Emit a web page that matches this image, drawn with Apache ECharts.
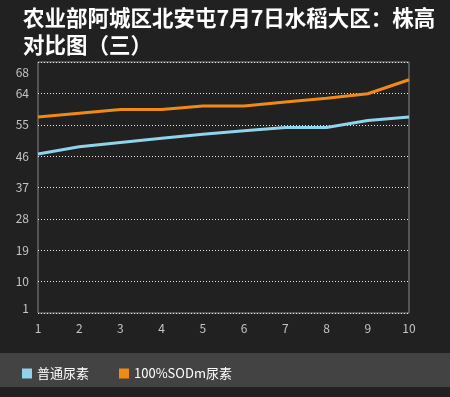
<!DOCTYPE html>
<html>
<head>
<meta charset="utf-8">
<script src="https://cdn.jsdelivr.net/npm/echarts@6/dist/echarts.min.js"></script>
<style>
  html, body { margin: 0; padding: 0; background: #212121; }
  #box { width: 450px; height: 397px; }
</style>
</head>
<body>
<div id="box"></div>
<script>
// x 轴类目
const aDays = ['1', '2', '3', '4', '5', '6', '7', '8', '9', '10'];
// 株高
const aNormal = [46.6, 48.7, 49.9, 51.1, 52.3, 53.3, 54.2, 54.2, 56.2, 57.2];
const aSOD = [57.2, 58.3, 59.4, 59.4, 60.4, 60.4, 61.5, 62.6, 63.9, 67.9];
const aNames = ['普通尿素', '100%SODm尿素'];
const aColors = ['#8fd4ea', '#f08a16'];

const oBox = document.getElementById('box');
const myChart = echarts.init(oBox, null, { renderer: 'canvas' });

const oCommonLine = {
    type: 'line',
    symbol: 'none',
    smooth: false,
    lineStyle: { width: 3 },
};

const option = {
    backgroundColor: '#212121',
    animation: false,
    textStyle: { fontFamily: '"Noto Sans CJK SC", "DejaVu Sans", sans-serif' },
    title: {
        text: '农业部阿城区北安屯7月7日水稻大区：株高\n对比图（三）',
        left: 18,
        top: -1,
        textStyle: {
            color: '#ffffff',
            fontSize: 21.5,
            fontWeight: 'bold',
            lineHeight: 27,
        },
    },
    graphic: [{
        type: 'rect',
        z: -1,
        shape: { x: 0, y: 353, width: 450, height: 34 },
        style: { fill: '#434343' },
    }],
    legend: {
        left: 17,
        top: 362,
        icon: 'rect',
        itemWidth: 10,
        itemHeight: 10,
        itemGap: 30,
        textStyle: { color: '#ffffff', fontSize: 13 },
        data: aNames,
    },
    grid: {
        left: 38,
        top: 62,
        width: 371,
        height: 251,
        show: true,
        borderColor: '#8a8a8a',
        borderWidth: 1,
        containLabel: false,
    },
    xAxis: {
        type: 'category',
        boundaryGap: false,
        data: aDays,
        axisLine: { show: false },
        axisTick: { show: false },
        axisLabel: { color: '#c4c4c4', fontSize: 12, margin: 9 },
        splitLine: { show: false },
    },
    yAxis: {
        type: 'value',
        min: 1,
        max: 73,
        interval: 9,
        axisLine: { show: false },
        axisTick: { show: false },
        axisLabel: {
            color: '#c4c4c4',
            fontSize: 12,
            margin: 9,
            formatter: v => (v === 73 ? '{t|68}' : v === 1 ? '{b|1}' : String(v)),
            rich: {
                t: { color: '#c4c4c4', fontSize: 12, padding: [20, 0, 0, 0] },
                b: { color: '#c4c4c4', fontSize: 12, padding: [0, 0, 10, 0] },
            },
        },
        splitLine: { lineStyle: { color: '#e8e8e8', type: [1, 2], width: 1 } },
    },
    series: [
        { ...oCommonLine, name: aNames[0], data: aNormal, color: aColors[0] },
        { ...oCommonLine, name: aNames[1], data: aSOD, color: aColors[1] },
    ],
};
myChart.setOption(option);
</script>
</body>
</html>
